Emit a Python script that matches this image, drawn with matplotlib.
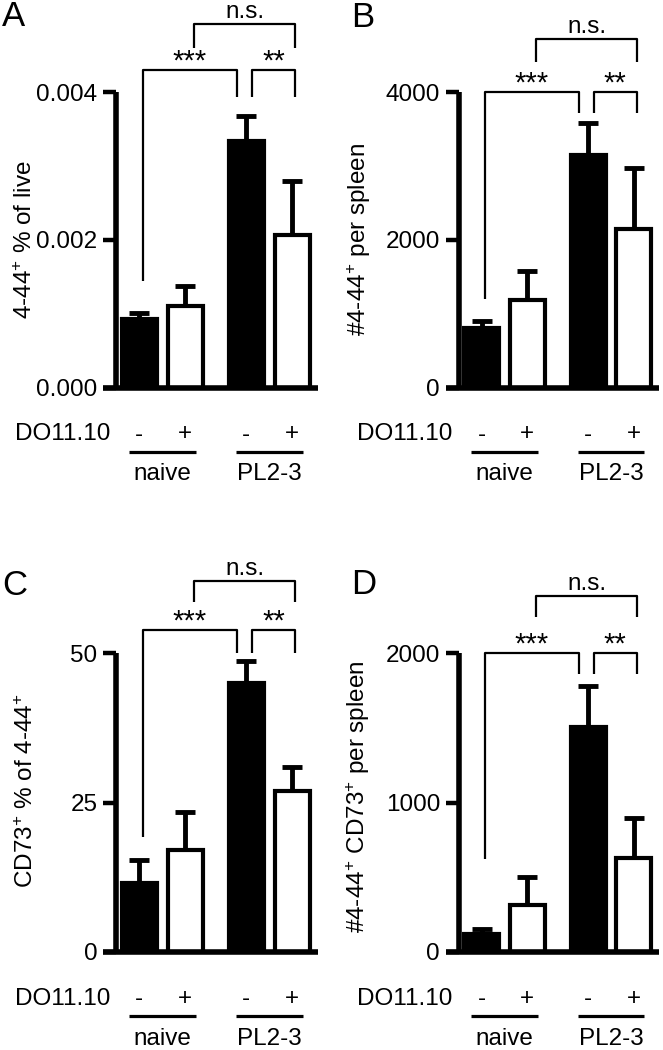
import numpy as np
import matplotlib
matplotlib.use('Agg')
import matplotlib.pyplot as plt
from matplotlib import transforms

plt.rcParams['font.family'] = ['Liberation Sans', 'DejaVu Sans']
plt.rcParams['mathtext.fontset'] = 'custom'
plt.rcParams['mathtext.rm'] = 'Liberation Sans'
plt.rcParams['mathtext.it'] = 'Liberation Sans:italic'
plt.rcParams['mathtext.bf'] = 'Liberation Sans:bold'

# conditions: (group, DO11.10 transfer)
groups = ['naive', 'PL2-3']
do1110 = ['-', '+', '-', '+']
bar_black = [True, False, True, False]

# panel A: 4-44+ % of live
a_mean = [0.00093, 0.00110, 0.00333, 0.00206]
a_sem = [0.00008, 0.00028, 0.00035, 0.00074]
# panel B: #4-44+ per spleen
b_mean = [810, 1180, 3150, 2145]
b_sem = [88, 398, 433, 826]
# panel C: CD73+ % of 4-44+
c_mean = [11.6, 17.0, 45.0, 26.9]
c_sem = [3.8, 6.4, 3.7, 4.0]
# panel D: #4-44+ CD73+ per spleen
d_mean = [120, 317, 1503, 629]
d_sem = [34, 185, 274, 267]

panels = [
    dict(letter='A', mean=a_mean, sem=a_sem, ymax=0.004,
         ticklabels=['0.000', '0.002', '0.004'],
         ylabel=r'4-44$^{+}$ % of live'),
    dict(letter='B', mean=b_mean, sem=b_sem, ymax=4000,
         ticklabels=['0', '2000', '4000'],
         ylabel=r'#4-44$^{+}$ per spleen'),
    dict(letter='C', mean=c_mean, sem=c_sem, ymax=50,
         ticklabels=['0', '25', '50'],
         ylabel=r'CD73$^{+}$ % of 4-44$^{+}$'),
    dict(letter='D', mean=d_mean, sem=d_sem, ymax=2000,
         ticklabels=['0', '1000', '2000'],
         ylabel=r'#4-44$^{+}$ CD73$^{+}$ per spleen'),
]
stars = ['***', '**', 'n.s.']

W, H = 663, 1050
FS = 17.5

# layout in pixels (left, right, top, bottom)
boxes = {'A': (103, 317.5, 92, 387.5), 'B': (445.5, 659, 92, 387.5),
         'C': (103, 317.5, 653, 952), 'D': (445.5, 659, 653, 952)}
letter_xy = {'A': (2, 0), 'B': (351, 1), 'C': (2, 569), 'D': (351, 568)}
ylab_xy = {'A': (-0.308, 0.5), 'B': (-0.34, 0.5), 'C': (-0.303, 0.54), 'D': (-0.344, 0.52)}
# bracket heights as fraction of ymax: top, left leg bottom, right legs bottom, ns top, ns bottom
brk = {'A': (1.075, 0.36, 0.982, 1.23, 1.15), 'B': (1.0, 0.30, 0.93, 1.18, 1.10),
       'C': (1.077, 0.385, 1.0, 1.24, 1.17), 'D': (1.0, 0.31, 0.93, 1.19, 1.12)}

pos = np.array([0, 1, 2.33, 3.33])
width = 0.77

fig = plt.figure(figsize=(W / 100, H / 100), dpi=100)

for p in panels:
    l, r, t, b = boxes[p['letter']]
    ax = fig.add_axes([l / W, 1 - b / H, (r - l) / W, (b - t) / H])
    mean = np.array(p['mean'])
    sem = np.array(p['sem'])
    ymax = p['ymax']

    for x, m, blk in zip(pos, mean, bar_black):
        ax.bar(x, m, width=width, color='black' if blk else 'white',
               edgecolor='black', linewidth=3, zorder=2)
    # upper error bars only
    ax.vlines(pos, mean, mean + sem, color='black', linewidth=3.5, zorder=1)
    ax.hlines(mean + sem, pos - 0.22, pos + 0.22, color='black', linewidth=3.5, zorder=1)

    for s in ['top', 'right']:
        ax.spines[s].set_visible(False)
    ax.spines['left'].set_position(('data', -0.5))
    ax.spines['left'].set_linewidth(4)
    ax.spines['bottom'].set_linewidth(4)
    for s in ['left', 'bottom']:
        ax.spines[s].set_capstyle('butt')

    ax.set_xlim(-0.79, 3.88)
    ax.set_ylim(0, ymax)
    ax.set_yticks([0, ymax / 2, ymax])
    ax.set_yticklabels(p['ticklabels'])
    ax.set_xticks([])
    ax.tick_params(axis='y', direction='out', length=9.5, width=3.2, pad=4,
                   labelsize=FS)

    ax.set_ylabel(p['ylabel'], fontsize=FS)
    ax.yaxis.set_label_coords(*ylab_xy[p['letter']])

    # significance brackets
    top, lbot, rbot, nstop, nsbot = [v * ymax for v in brk[p['letter']]]
    kw = dict(color='black', linewidth=1.6, clip_on=False, solid_capstyle='butt')
    ax.plot([0.08, 0.08, 2.12, 2.12], [lbot, top, top, rbot], **kw)
    ax.plot([2.45, 2.45, 3.40, 3.40], [rbot, top, top, rbot], **kw)
    ax.plot([1.20, 1.20, 3.40, 3.40], [nsbot, nstop, nstop, nsbot], **kw)
    up = transforms.offset_copy(ax.transData, fig=fig, x=0, y=0, units='dots')
    ax.text(1.10, top, stars[0], ha='center', va='baseline', fontsize=21, transform=up)
    ax.text(2.925, top, stars[1], ha='center', va='baseline', fontsize=21, transform=up)
    up_ns = transforms.offset_copy(ax.transData, fig=fig, x=0, y=6, units='dots')
    ax.text(2.30, nstop, stars[2], ha='center', va='baseline', fontsize=FS, transform=up_ns)

    # condition rows below the axis
    xt = ax.get_xaxis_transform()
    row1 = transforms.offset_copy(xt, fig=fig, x=0, y=-47, units='dots')
    row2 = transforms.offset_copy(xt, fig=fig, x=0, y=-64, units='dots')
    row3 = transforms.offset_copy(xt, fig=fig, x=0, y=-93, units='dots')
    ax.text(-0.64, 0, 'DO11.10', ha='right', va='center', fontsize=FS, transform=row1)
    for x, s in zip(pos, do1110):
        ax.text(x, 0, s, ha='center', va='center', fontsize=FS, transform=row1)
    for gi, g in enumerate(groups):
        c = (pos[2 * gi] + pos[2 * gi + 1]) / 2
        ax.plot([c - 0.73, c + 0.73], [0, 0], color='black', linewidth=2.3,
                transform=row2, clip_on=False, solid_capstyle='butt')
        ax.text(c, 0, g, ha='center', va='baseline', fontsize=FS, transform=row3)

    lx, ly = letter_xy[p['letter']]
    fig.text(lx / W, 1 - ly / H, p['letter'], fontsize=25, ha='left', va='top')

fig.savefig('out.png', dpi=100)
